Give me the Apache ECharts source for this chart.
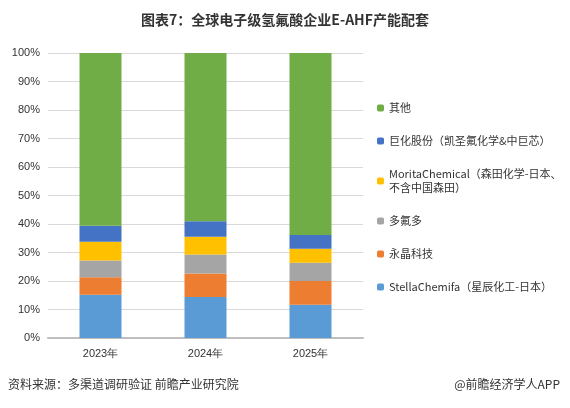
<!DOCTYPE html>
<html><head><meta charset="utf-8">
<script src="https://cdn.jsdelivr.net/npm/echarts@6/dist/echarts.min.js"></script>
<style>html,body{margin:0;padding:0;background:#fff}#c{width:570px;height:408px}</style>
</head><body><div id="c"></div>
<script>
var years = ['2023年', '2024年', '2025年'];
var names = ['StellaChemifa（星辰化工-日本）', '永晶科技', '多氟多', 'MoritaChemical（森田化学-日本、\n不含中国森田）', '巨化股份（凯圣氟化学&中巨芯）', '其他'];
var colors = ['#5b9bd5', '#ed7d31', '#a5a5a5', '#ffc000', '#4472c4', '#70ad47'];
var stella = [15.2, 14.4, 11.7];
var yongjing = [6.1, 8.2, 8.3];
var duofuduo = [5.9, 6.7, 6.4];
var morita = [6.6, 6.2, 4.9];
var juhua = [5.6, 5.5, 4.8];
var other = [60.6, 59.0, 63.9];
var values = [stella, yongjing, duofuduo, morita, juhua, other];

var chart = echarts.init(document.getElementById('c'));
var series = names.map(function (n, i) {
    return {
        name: n, type: 'bar', stack: 'a', barWidth: 42,
        itemStyle: {color: colors[i]},
        data: values[i]
    };
});
chart.setOption({
    animation: false,
    title: {
        text: '图表7：全球电子级氢氟酸企业E-AHF产能配套', left: 'center', top: 8,
        textStyle: {fontSize: 14, fontWeight: 'bold', color: '#333', fontFamily: 'Noto Sans CJK SC'}
    },
    graphic: [
        {type: 'text', left: 8, top: 378, style: {text: '资料来源：多渠道调研验证 前瞻产业研究院', fontSize: 12, fill: '#333', fontFamily: 'Noto Sans CJK SC'}},
        {type: 'text', right: 10, top: 378, style: {text: '@前瞻经济学人APP', fontSize: 12, fill: '#333', fontFamily: 'Noto Sans CJK SC'}}
    ],
    legend: {
        orient: 'vertical', left: 372, top: 96, itemWidth: 7, itemHeight: 7, itemGap: 19,
        data: names.slice().reverse(),
        textStyle: {fontSize: 11, color: '#333', fontFamily: 'Noto Sans CJK SC', lineHeight: 14}
    },
    grid: {left: 48, right: 207, top: 53, bottom: 70},
    xAxis: {
        type: 'category', data: years,
        axisLine: {lineStyle: {color: '#bfbfbf', width: 2}}, axisTick: {show: false},
        axisLabel: {fontSize: 11, color: '#333', margin: 10}
    },
    yAxis: {
        type: 'value', min: 0, max: 100, interval: 10,
        axisLabel: {formatter: '{value}%', fontSize: 11, color: '#333'},
        splitLine: {lineStyle: {color: '#d9d9d9'}}
    },
    series: series
});
</script></body></html>
